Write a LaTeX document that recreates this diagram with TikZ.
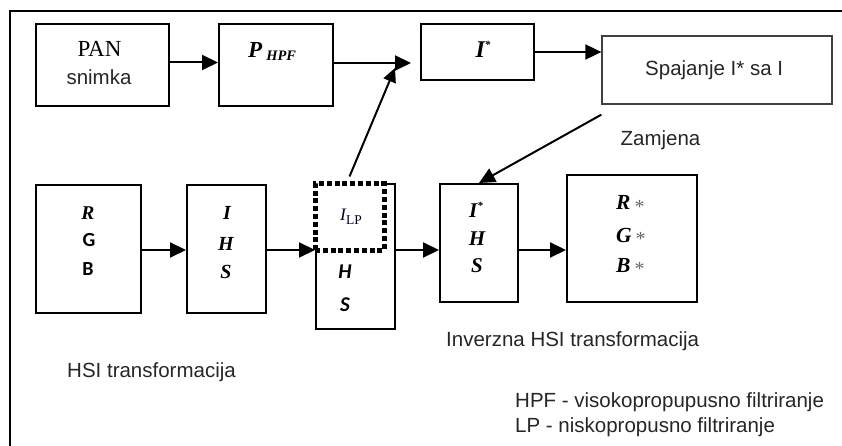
\documentclass[tikz,border=0pt]{standalone}
\usepackage{fontspec}
\setmainfont{Liberation Serif}
\newfontfamily\arialf{Liberation Sans}
\newfontfamily\calf{Carlito}
\usetikzlibrary{arrows.meta}
\tikzset{
  box/.style={draw, line width=2pt, inner sep=0pt},
  thinbox/.style={draw=black!75, line width=1.3pt, inner sep=0pt},
  lbl/.style={inner sep=0pt, anchor=base},
  sans/.style={font=\arialf\fontsize{20.5}{24}\selectfont, text=black!85},
  bi/.style={font=\bfseries\itshape\fontsize{#1}{#1}\selectfont},
  cbi/.style={font=\calf\bfseries\itshape\fontsize{#1}{#1}\selectfont},
  cb/.style={font=\calf\bfseries\fontsize{#1}{#1}\selectfont},
  arr/.style={line width=2pt, -{Triangle[length=16pt,width=15pt]}},
  dotbox/.style={draw, line width=5pt, dash pattern=on 5pt off 2.8pt, fill=white,
    preaction={draw=white, solid}, inner sep=0pt},
}
\newcommand\smallstar[1]{\raisebox{#1}{\fontsize{11}{11}\selectfont *}}
\newcommand\graystar{\raisebox{-3.5pt}{\fontsize{20}{20}\selectfont\mdseries\upshape\color{black!60} *}}
\begin{document}
\begin{tikzpicture}[x=1pt,y=-1pt]
\useasboundingbox (0,0) rectangle (842,446);
% frame
\draw[line width=2pt] (842,11) -- (9.5,11) -- (9.5,446);

% boxes
\node[box, minimum width=133, minimum height=82] (pan) at (102.5,65) {};
\node[box, minimum width=114, minimum height=82] (phpf) at (276,65) {};
\node[box, minimum width=113, minimum height=56] (istar) at (477.5,52) {};
\node[thinbox, minimum width=230, minimum height=68] (spaj) at (717,70) {};
\node[box, minimum width=105, minimum height=128] (rgb) at (88.5,249) {};
\node[box, minimum width=79, minimum height=128] (ihs) at (226.5,249) {};
\node[box, minimum width=79, minimum height=145] (lp) at (355.5,256.5) {};
\node[dotbox, minimum width=69, minimum height=66] (lpdot) at (349.5,217) {};
\node[box, minimum width=78, minimum height=118] (ihs2) at (479,243) {};
\node[box, minimum width=130, minimum height=127] (rgbs) at (632,238.5) {};

% texts
\node[lbl, font=\fontsize{23}{26}\selectfont] (pant) at (99.5,57) {PAN};
\node[lbl, sans] (snim) at (99,85) {snimka};
\node[lbl, anchor=base west, bi=23] (phpft) at (248,58)
  {P\hspace{4pt}\raisebox{-3pt}{\fontsize{14.5}{14.5}\selectfont HPF}};
\node[lbl, bi=24] (istart) at (483,58) {I\smallstar{9pt}};
\node[lbl, anchor=base west, sans] (spajt) at (645,76) {Spajanje I* sa I};
\node[lbl, sans] (zam) at (660.5,146) {Zamjena};

\node[lbl, bi=19.5] (rR) at (88,219) {R};
\node[lbl, cb=20] (rG) at (89,246) {G};
\node[lbl, cb=20] (rB) at (88,275) {B};

\node[lbl, bi=20] (hI) at (227,219) {I};
\node[lbl, bi=20] (hH) at (226,250) {H};
\node[lbl, bi=20] (hS) at (226,278) {S};

\node[lbl, anchor=base west, font=\itshape\fontsize{17.5}{17.5}\selectfont, text=black!85!blue] (ilpt) at (340,221)
  {I\raisebox{-4pt}{\upshape\fontsize{13.5}{13.5}\selectfont LP}};
\node[lbl, cbi=21] (lH) at (345,278) {H};
\node[lbl, cbi=21] (lS) at (345,311) {S};

\node[lbl, bi=21] (iI) at (476,218) {I\smallstar{8pt}};
\node[lbl, bi=21] (iH) at (477,245) {H};
\node[lbl, bi=21] (iS) at (477,272) {S};

\node[lbl, anchor=base west, bi=21.5] (sR) at (616,210) {R\hspace{4pt}\graystar};
\node[lbl, anchor=base west, bi=21.5] (sG) at (616,242) {G\hspace{4pt}\graystar};
\node[lbl, anchor=base west, bi=21.5] (sB) at (616,272) {B\hspace{4pt}\graystar};

\node[lbl, anchor=base west, sans] (hsi) at (67,377) {HSI transformacija};
\node[lbl, anchor=base west, sans] (inv) at (446,346) {Inverzna HSI transformacija};
\node[lbl, anchor=base west, sans] (leg1) at (515,407) {HPF - visokopropupusno filtriranje};
\node[lbl, anchor=base west, sans] (leg2) at (515,432) {LP - niskopropusno filtriranje};

% helper coordinates
\coordinate (ytop) at (0,62.5);
\coordinate (ybot) at (0,250);
\coordinate (m1) at (411,63);
\coordinate (m2) at (395,68);

% connectors
\draw[arr] (pan.east |- ytop) -- (phpf.west |- ytop);
\draw[arr] (phpf.east |- m1) -- (m1);
\draw[line width=2pt, -{Triangle[length=14pt,width=13pt]}] ([yshift=5pt]lpdot.north) -- (m2);
\draw[arr] (istar.east) -- (istar.east -| spaj.west);
\draw[arr] ([yshift=-10pt]spaj.south west) -- (ihs2.north);
\draw[arr] (rgb.east |- ybot) -- (ihs.west |- ybot);
\draw[arr] (ihs.east |- ybot) -- (lp.west |- ybot);
\draw[arr] (lp.east |- ybot) -- (ihs2.west |- ybot);
\draw[arr] (ihs2.east |- ybot) -- (rgbs.west |- ybot);
\end{tikzpicture}
\end{document}
